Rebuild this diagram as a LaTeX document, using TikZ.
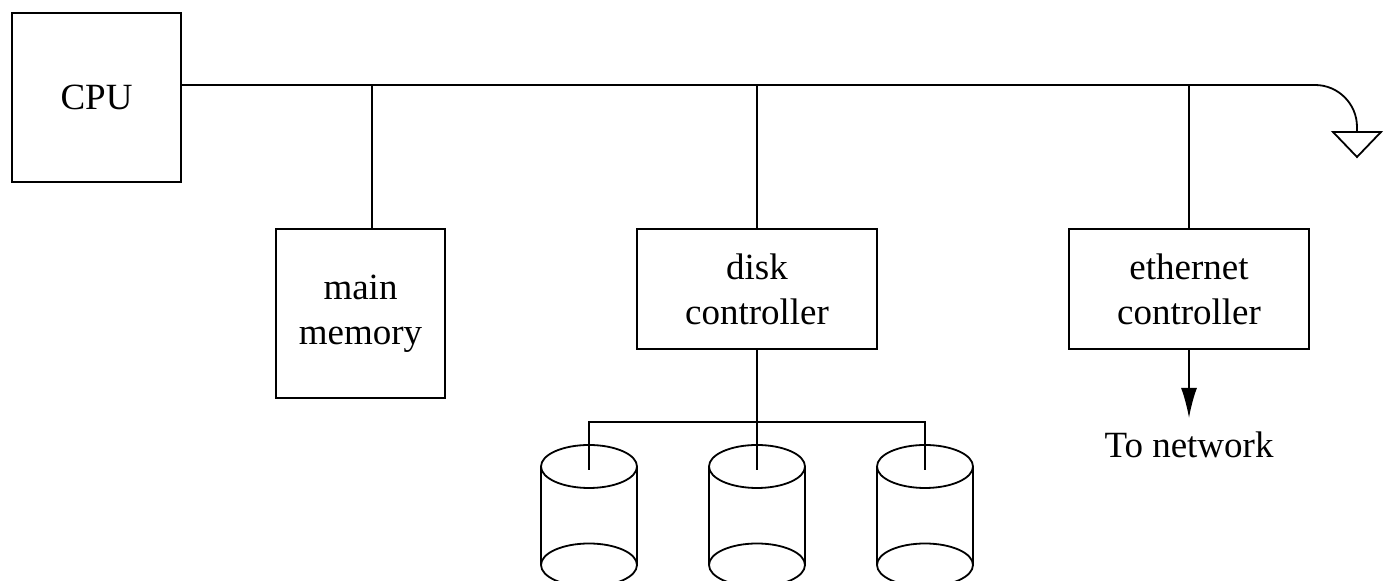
\documentclass[tikz,border=0pt]{standalone}
\usepackage{fontspec}
\setmainfont{Liberation Serif}
\usetikzlibrary{arrows.meta}

\begin{document}
\begin{tikzpicture}[x=0.5pt,y=-0.5pt,line width=0.9pt,>={Latex[length=15pt,width=8pt]},
                    txt/.style={font=\fontsize{18.5}{22.5}\selectfont,align=center},
                    box/.style 2 args={draw,txt,minimum width=#1,minimum height=#2,inner sep=0pt}]
                    \useasboundingbox (0,0) rectangle (1389,581);

                    % the boxes
                    \node[box={84.5pt}{84.5pt}] (cpu) at (96.5,97.5) {CPU};
                    \node[box={84.5pt}{84.5pt}] (mem) at (360.5,313.5) {main\\memory};
                    \node[box={120pt}{60pt}] (disk) at (757,289) {disk\\controller};
                    \node[box={120pt}{60pt}] (eth) at (1189,289) {ethernet\\controller};
                    \node[txt,anchor=north,inner sep=0pt] (net) at (1189,431) {To network};

                    % draw the bus and its terminator
                    \coordinate (tapm) at (372,85);
                    \coordinate (tapd) at (757,85);
                    \coordinate (tape) at (1189,85);
                    \coordinate (gnd) at (1357,132);
                    \draw[rounded corners=21pt] (cpu.east |- tapm) -- (1357,85) -- (gnd);
                    \draw (1333,132) -- (1381,132) -- (1357,157) -- cycle;

                    \draw (tapm) -- (tapm |- mem.north);
                    \draw (tapd) -- (disk.north);
                    \draw (tape) -- (eth.north);
                    \draw[->,shorten >=6.5pt] (eth.south) -- (net.north);

                    % the disks
                    \foreach \i/\cx in {1/589,2/757,3/925} {
                            \coordinate (d\i) at (\cx,470);
                            \draw (\cx,466.5) ellipse [x radius=24pt,y radius=10.75pt];
                            \draw (\cx,565) ellipse [x radius=24pt,y radius=10.75pt];
                            \draw (\cx-48,466.5) -- (\cx-48,565) (\cx+48,466.5) -- (\cx+48,565);
                    }
                    \coordinate (hub) at (757,422);
                    \draw (disk.south) -- (d2);
                    \draw (d1) |- (hub) -| (d3);
                \end{tikzpicture}
\end{document}
